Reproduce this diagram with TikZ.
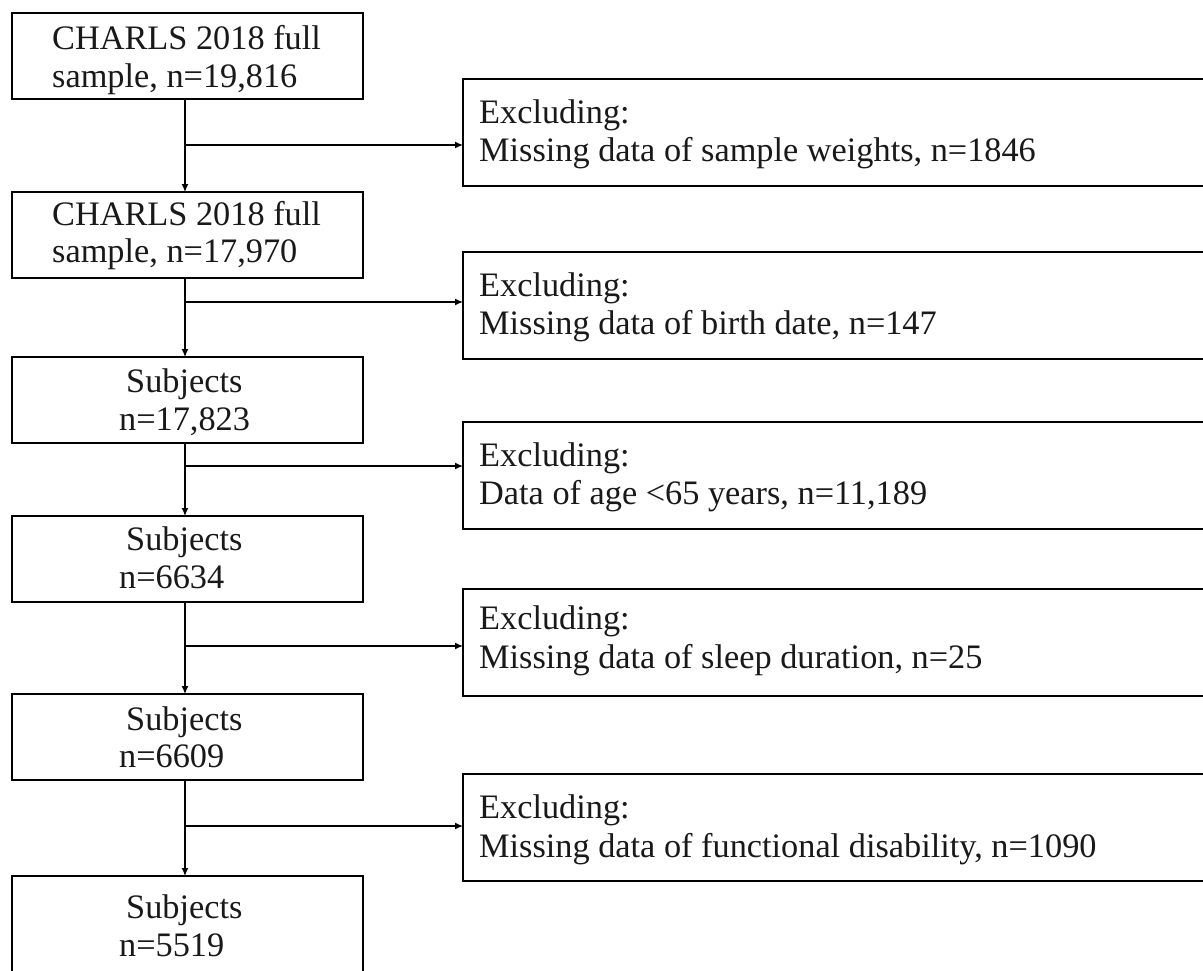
\documentclass[tikz,border=0pt]{standalone}
\usepackage{fontspec}
\setmainfont{Liberation Serif}
\usetikzlibrary{arrows.meta}
\begin{document}
\begin{tikzpicture}[x=1pt,y=-1pt,
  box/.style={draw=black, line width=1.3pt, rectangle, inner sep=0pt, outer sep=0pt, anchor=north west},
  lbox/.style={box, minimum width=351pt, minimum height=86pt},
  rbox/.style={box, minimum width=800pt, minimum height=107pt},
  txt/.style={anchor=base west, inner sep=0pt, font=\fontsize{34.3}{38}\selectfont, text=black!90},
  arr/.style={line width=1.3pt, -{Latex[length=8pt,width=7pt]}}]
\useasboundingbox (0,0) rectangle (1203,970);
\clip (0,0) rectangle (1203,970);
\fill[white] (0,0) rectangle (1203,970);
% left boxes
\node[lbox] (L1) at (12,13) {};
\node[lbox] (L2) at (12,192) {};
\node[lbox] (L3) at (12,357) {};
\node[lbox] (L4) at (12,516) {};
\node[lbox] (L5) at (12,694) {};
\node[lbox, minimum height=130pt] (L6) at (12,876) {};
% right boxes
\node[rbox] (R1) at (463,79) {};
\node[rbox] (R2) at (463,252) {};
\node[rbox] (R3) at (463,422) {};
\node[rbox] (R4) at (463,589) {};
\node[rbox] (R5) at (463,774) {};
% texts
\node[txt] (t1a) at (52,49) {CHARLS 2018 full};
\node[txt] (t1b) at (52,87) {sample, n=19,816};
\node[txt] (t2a) at (52,225) {CHARLS 2018 full};
\node[txt] (t2b) at (52,262) {sample, n=17,970};
\node[txt] (t3a) at (126,392) {Subjects};
\node[txt] (t3b) at (119,430) {n=17,823};
\node[txt] (t4a) at (126,550) {Subjects};
\node[txt] (t4b) at (119,588) {n=6634};
\node[txt] (t5a) at (126,730) {Subjects};
\node[txt] (t5b) at (119,767) {n=6609};
\node[txt] (t6a) at (126,918) {Subjects};
\node[txt] (t6b) at (119,956) {n=5519};
\node[txt] (r1a) at (479,123) {Excluding:};
\node[txt] (r1b) at (479,161) {Missing data of sample weights, n=1846};
\node[txt] (r2a) at (479,296) {Excluding:};
\node[txt] (r2b) at (479,334) {Missing data of birth date, n=147};
\node[txt] (r3a) at (479,466) {Excluding:};
\node[txt] (r3b) at (479,504) {Data of age <65 years, n=11,189};
\node[txt] (r4a) at (479,629) {Excluding:};
\node[txt] (r4b) at (479,668) {Missing data of sleep duration, n=25};
\node[txt] (r5a) at (479,818) {Excluding:};
\node[txt] (r5b) at (479,857) {Missing data of functional disability, n=1090};
% branch points
\coordinate (b1) at (185,145);
\coordinate (b2) at (185,302);
\coordinate (b3) at (185,466);
\coordinate (b4) at (185,646);
\coordinate (b5) at (185,826);
% vertical arrows
\draw[arr] (L1.south -| b1) -- (L2.north -| b1);
\draw[arr] (L2.south -| b2) -- (L3.north -| b2);
\draw[arr] (L3.south -| b3) -- (L4.north -| b3);
\draw[arr] (L4.south -| b4) -- (L5.north -| b4);
\draw[arr] (L5.south -| b5) -- (L6.north -| b5);
% horizontal arrows
\draw[arr] (b1) -- (b1 -| R1.west);
\draw[arr] (b2) -- (b2 -| R2.west);
\draw[arr] (b3) -- (b3 -| R3.west);
\draw[arr] (b4) -- (b4 -| R4.west);
\draw[arr] (b5) -- (b5 -| R5.west);
\end{tikzpicture}
\end{document}
